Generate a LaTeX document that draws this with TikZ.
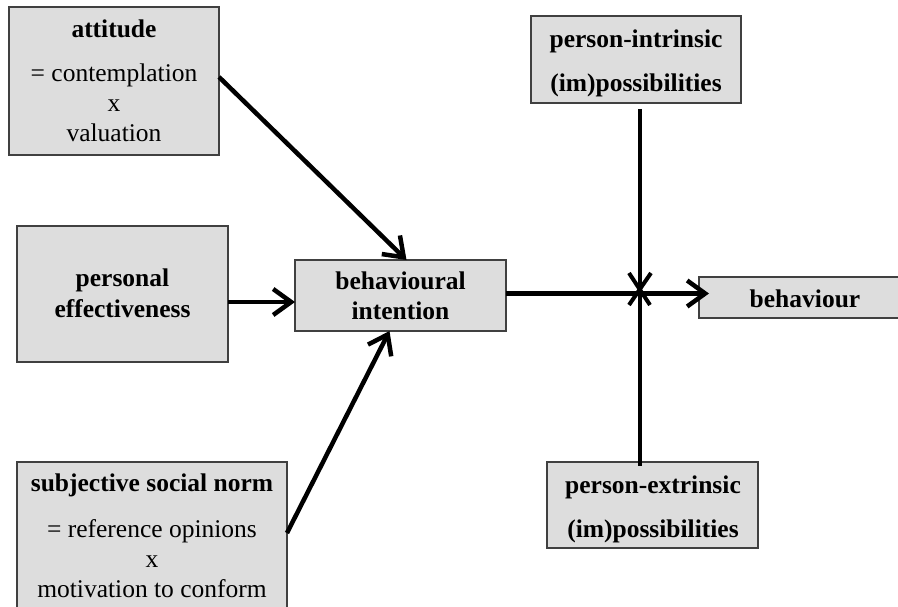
\documentclass[tikz,border=0pt]{standalone}
\usepackage{fontspec}
\setmainfont{Liberation Serif}
\usetikzlibrary{arrows.meta}
\definecolor{boxfill}{HTML}{DDDDDD}
\definecolor{boxline}{HTML}{404040}
\tikzset{
  box/.style={draw=boxline, fill=boxfill, line width=1.6pt, inner sep=0pt, outer sep=0pt},
  ttl/.style={anchor=base, inner sep=0pt, font=\fontsize{25.5}{30}\selectfont\bfseries},
  txt/.style={anchor=base, inner sep=0pt, font=\fontsize{25.5}{30}\selectfont},
  conn/.style={line width=4.5pt},
  arr/.style={line width=4.5pt, -{Straight Barb[length=18pt, width=26pt, line width=4.5pt]}}
}
\begin{document}
\begin{tikzpicture}[x=1pt, y=-1pt]
\clip (0,0) rectangle (898,607);
\fill[white] (0,0) rectangle (898,607);
% boxes
\node[box, minimum width=210pt, minimum height=148pt] (att) at (114,81) {};
\node[box, minimum width=211pt, minimum height=136pt] (pe) at (122.5,294) {};
\node[box, minimum width=270pt, minimum height=170pt] (ssn) at (152,547) {};
\node[box, minimum width=211pt, minimum height=71pt] (bi) at (400.5,295.5) {};
\node[box, minimum width=210pt, minimum height=87pt] (pi) at (636,59.5) {};
\node[box, minimum width=211pt, minimum height=86pt] (px) at (652.5,505) {};
\node[box, minimum width=200pt, minimum height=41pt] (beh) at (799,297.5) {};
% texts
\node[ttl] (att1) at (114,38) {attitude};
\node[txt] (att2) at (114,82) {= contemplation};
\node[txt] (att3) at (114,112) {x};
\node[txt] (att4) at (114,142) {valuation};
\node[ttl] (pe1) at (122.5,287) {personal};
\node[ttl] (pe2) at (122.5,317) {effectiveness};
\node[ttl] (ssn1) at (152,491) {subjective social norm};
\node[txt] (ssn2) at (152,537) {= reference opinions};
\node[txt] (ssn3) at (152,567) {x};
\node[txt] (ssn4) at (152,597) {motivation to conform};
\node[ttl] (bi1) at (400.5,290) {behavioural};
\node[ttl] (bi2) at (400.5,319) {intention};
\node[ttl] (pi1) at (636,48) {person-intrinsic};
\node[ttl] (pi2) at (636,92) {(im)possibilities};
\node[ttl] (px1) at (653,493) {person-extrinsic};
\node[ttl] (px2) at (653,537) {(im)possibilities};
\node[ttl] (beh1) at (805,307) {behaviour};
% connectors
\draw[arr] ([yshift=4pt]att.east) -- ([xshift=6pt]bi.north);
\draw[arr] ([yshift=-8pt]pe.east) -- ([yshift=-8pt]pe.east -| bi.west);
\draw[arr] ([yshift=14pt]ssn.east) -- ([xshift=-11pt]bi.south);
\draw[arr, shorten >=-10pt] ([yshift=2pt]bi.east) -- ([yshift=2pt]bi.east -| beh.west);
\coordinate (vtop) at (640,109);
\coordinate (vbot) at (640,466);
\draw[conn] (vtop) -- (vbot);
\coordinate (xa) at (629,273);
\coordinate (xb) at (650,305);
\coordinate (xc) at (651,273);
\coordinate (xd) at (629,305);
\draw[line width=4pt] (xa) -- (xb);
\draw[line width=4pt] (xc) -- (xd);
\end{tikzpicture}
\end{document}
